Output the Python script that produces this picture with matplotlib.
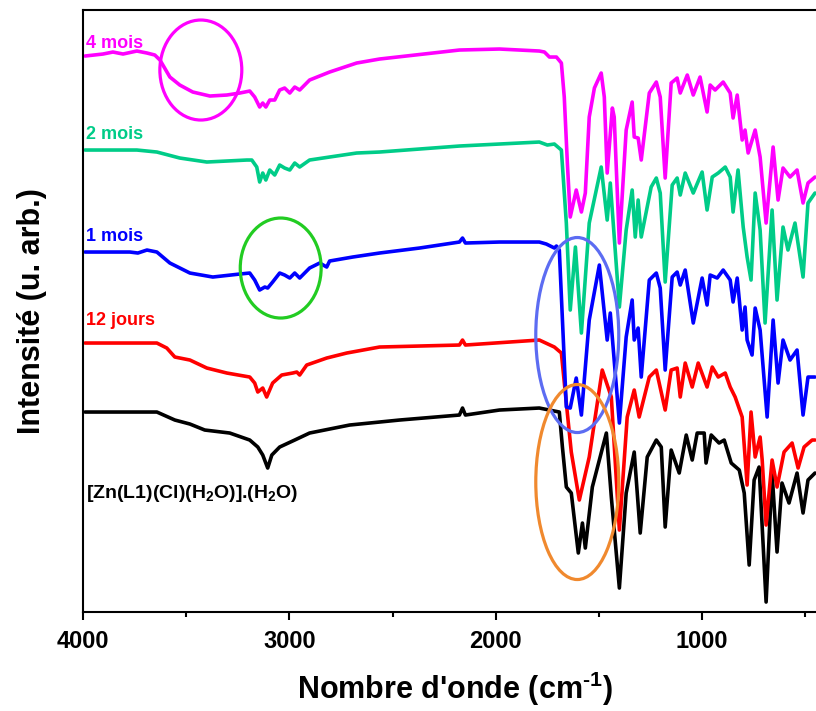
import matplotlib.pyplot as plt
from matplotlib.patches import Ellipse
from matplotlib.ticker import MultipleLocator

plt.rcParams['font.family'] = ['Liberation Sans', 'DejaVu Sans']
plt.rcParams['mathtext.fontset'] = 'custom'
plt.rcParams['mathtext.rm'] = 'Liberation Sans:bold'
plt.rcParams['mathtext.it'] = 'Liberation Sans:bold'
plt.rcParams['mathtext.bf'] = 'Liberation Sans:bold'

# spectres FTIR (nombre d'onde, intensité décalée en u. arb.)
wn_black = [3990, 3642, 3555, 3482, 3410, 3289, 3192, 3153, 3129, 3105, 3085, 3047, 2974, 2902,
            2708, 2466, 2176, 2161, 2147, 1982, 1789, 1692, 1677, 1658, 1634, 1600, 1580, 1566,
            1532, 1464, 1440, 1401, 1368, 1329, 1319, 1300, 1266, 1222, 1198, 1179, 1150, 1111,
            1077, 1048, 1024, 990, 981, 956, 918, 893, 859, 820, 796, 772, 748, 724, 690, 661,
            637, 613, 579, 540, 511, 487, 453]
i_black = [200, 200, 192, 188, 182, 179, 172, 165, 157, 144, 157, 165, 172, 179,
           187, 192, 197, 204, 197, 202, 204, 200, 165, 125, 119, 59, 89, 64,
           125, 179, 115, 24, 119, 160, 132, 79, 155, 172, 165, 85, 162, 139,
           177, 152, 179, 179, 149, 177, 169, 172, 149, 142, 119, 47, 132, 145, 10, 139,
           60, 129, 109, 139, 99, 132, 139]

wn_red = [3990, 3642, 3594, 3555, 3482, 3400, 3303, 3192, 3168, 3153, 3129, 3110, 3081, 3037,
          2984, 2964, 2950, 2916, 2819, 2722, 2563, 2176, 2161, 2147, 1789, 1716, 1682, 1658,
          1634, 1595, 1547, 1484, 1440, 1401, 1363, 1329, 1305, 1256, 1222, 1193, 1179, 1150,
          1121, 1106, 1082, 1048, 1019, 976, 951, 922, 888, 864, 840, 806, 782, 763, 743, 719,
          709, 690, 661, 637, 603, 564, 535, 506, 467, 453]
i_red = [269, 269, 264, 255, 252, 244, 239, 235, 229, 220, 224, 215, 229, 237,
         239, 240, 237, 247, 254, 259, 265, 267, 272, 267, 272, 265, 259, 209,
         160, 112, 155, 242, 215, 82, 195, 222, 195, 235, 242, 215, 202, 242,
         244, 215, 249, 225, 249, 225, 245, 235, 239, 225, 215, 195, 127, 200, 155, 175,
         152, 87, 152, 125, 160, 169, 144, 165, 172, 172]

wn_blue = [3990, 3773, 3734, 3690, 3642, 3579, 3482, 3371, 3240, 3192, 3168, 3144, 3119, 3105,
           3081, 3047, 3023, 2998, 2974, 2950, 2902, 2853, 2819, 2805, 2693, 2563, 2369, 2176,
           2161, 2147, 1982, 1789, 1755, 1716, 1706, 1692, 1658, 1639, 1610, 1585, 1547, 1498,
           1460, 1445, 1401, 1368, 1339, 1329, 1310, 1295, 1256, 1222, 1203, 1179, 1145, 1121,
           1106, 1082, 1043, 1000, 976, 961, 927, 898, 864, 850, 830, 806, 792, 782, 758, 743,
           719, 685, 656, 632, 608, 574, 540, 511, 487, 453]
i_blue = [360, 360, 359, 362, 360, 349, 339, 335, 338, 339, 332, 322, 325, 324,
          330, 339, 337, 334, 339, 334, 344, 349, 345, 351, 355, 359, 364, 370,
          374, 369, 370, 370, 368, 364, 366, 362, 205, 204, 234, 197, 292, 347,
          272, 299, 189, 275, 312, 272, 284, 235, 332, 339, 324, 242, 335, 340,
          327, 342, 289, 334, 307, 337, 334, 342, 332, 310, 334, 282, 305, 272, 257, 304,
          282, 195, 292, 229, 272, 252, 262, 197, 235, 235]

wn_green = [3990, 3739, 3642, 3531, 3400, 3206, 3182, 3158, 3144, 3129, 3114, 3095, 3071, 3047,
            3023, 2998, 2974, 2950, 2902, 2805, 2674, 2563, 2176, 1982, 1789, 1750, 1716, 1682,
            1658, 1639, 1614, 1585, 1547, 1489, 1460, 1445, 1401, 1368, 1339, 1324, 1310, 1295,
            1247, 1222, 1203, 1179, 1145, 1121, 1106, 1082, 1043, 1000, 976, 951, 922, 888, 864,
            850, 826, 801, 782, 763, 743, 719, 695, 661, 637, 608, 584, 550, 511, 487, 453]
i_green = [462, 462, 460, 454, 450, 452, 452, 445, 430, 439, 432, 442, 437, 447,
           444, 442, 449, 445, 452, 455, 459, 460, 466, 468, 470, 467, 468, 462,
           389, 302, 365, 279, 389, 445, 392, 429, 305, 382, 422, 375, 412, 375,
           425, 434, 419, 330, 427, 434, 417, 439, 419, 440, 402, 435, 439, 445, 435,
           400, 442, 385, 355, 332, 419, 382, 289, 402, 312, 385, 362, 389, 335, 409, 419]

wn_mag = [3990, 3903, 3855, 3806, 3739, 3690, 3652, 3627, 3579, 3531, 3468, 3385, 3303, 3240,
          3192, 3168, 3144, 3129, 3114, 3095, 3071, 3047, 3023, 2998, 2974, 2950, 2902, 2805,
          2674, 2563, 2176, 1982, 1789, 1764, 1740, 1706, 1682, 1668, 1653, 1639, 1610, 1585,
          1566, 1547, 1522, 1489, 1474, 1460, 1435, 1426, 1401, 1368, 1339, 1329, 1310, 1295,
          1256, 1222, 1203, 1179, 1150, 1121, 1106, 1072, 1043, 1010, 976, 961, 937, 898, 864,
          850, 830, 806, 792, 777, 743, 719, 690, 656, 632, 608, 574, 540, 511, 487, 453]
i_mag = [556, 558, 560, 558, 561, 559, 557, 552, 535, 527, 520, 516, 517, 519,
         521, 515, 505, 509, 505, 512, 512, 522, 524, 519, 525, 522, 532, 540,
         549, 553, 562, 563, 561, 560, 555, 555, 549, 515, 449, 395, 422, 400,
         419, 495, 524, 539, 515, 439, 504, 495, 369, 482, 510, 475, 474, 452,
         519, 530, 515, 434, 529, 534, 519, 537, 517, 535, 500, 527, 522, 530, 519,
         494, 517, 472, 482, 459, 482, 455, 389, 465, 412, 444, 435, 442, 409, 429, 435]

series = [
    (wn_black, i_black, 'black'),
    (wn_red, i_red, '#ff0000'),
    (wn_blue, i_blue, '#0000ff'),
    (wn_green, i_green, '#00cc88'),
    (wn_mag, i_mag, '#ff00ff'),
]

labels = ['4 mois', '2 mois', '1 mois', '12 jours', '[Zn(L1)(Cl)(H$_2$O)].(H$_2$O)']
label_y = [564, 473, 371, 287, 114]
label_col = ['#ff00ff', '#00cc88', '#0000ff', '#ff0000', 'black']
label_size = [13, 13, 13, 13, 14]

# cercles d'annotation: (centre nb d'onde, centre intensité, largeur, hauteur, couleur)
circ_x = [3429, 3042, 1605, 1605]
circ_y = [542, 344, 277, 130]
circ_w = [397, 392, 402, 402]
circ_h = [100, 100, 195, 195]
circ_c = ['#ff00ff', '#22cc22', '#5c6cf2', '#f0892e']

fig = plt.figure(figsize=(8.16, 7.11), dpi=100)
ax = fig.add_axes([0.1017, 0.1392, 0.9105, 0.8467])

for wn, inten, c in series:
    ax.plot(wn, inten, color=c, lw=2.6, solid_joinstyle='round', solid_capstyle='round')

for t, y, c, fs in zip(labels, label_y, label_col, label_size):
    ax.text(3985, y, t, color=c, fontsize=fs, fontweight='bold', va='baseline', ha='left')

for cx, cy, w, h, c in zip(circ_x, circ_y, circ_w, circ_h, circ_c):
    ax.add_patch(Ellipse((cx, cy), w, h, fill=False, ec=c, lw=2.3, zorder=5))

ax.set_xlim(4000, 400)
ax.set_ylim(0, 602)
ax.set_yticks([])
ax.xaxis.set_major_locator(MultipleLocator(1000))
ax.xaxis.set_minor_locator(MultipleLocator(500))
ax.tick_params(axis='x', which='major', direction='out', length=6, width=1.5,
               labelsize=17, pad=7)
ax.tick_params(axis='x', which='minor', direction='out', length=3.5, width=1.5)
for lab in ax.get_xticklabels():
    lab.set_fontweight('bold')
for s in ax.spines.values():
    s.set_linewidth(1.5)

ax.set_xlabel(r"Nombre d'onde (cm$^{\text{-1}}$)", fontsize=22, fontweight='bold', labelpad=12)
ax.set_ylabel('Intensité (u. arb.)', fontsize=22, fontweight='bold', labelpad=26)

fig.savefig('out.png', dpi=100)
